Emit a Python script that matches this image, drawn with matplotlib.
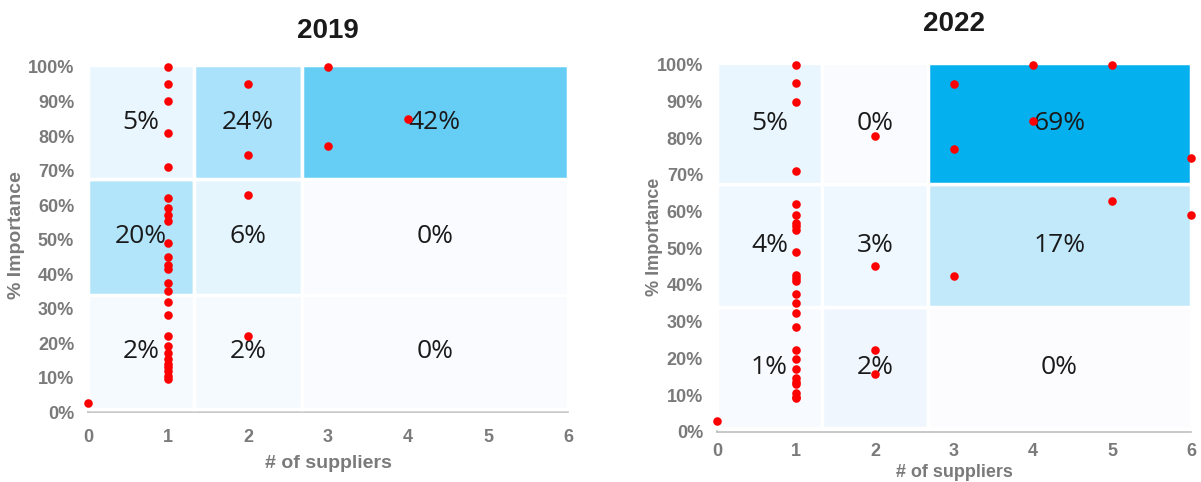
import matplotlib
matplotlib.use('Agg')
import matplotlib.pyplot as plt
from matplotlib.patches import Rectangle
from matplotlib.ticker import PercentFormatter

# grid of cells: column edges (# of suppliers) and row edges (importance)
col_edges = [0, 1.33, 2.67, 6]
row_edges = [0.01, 0.34, 0.675, 1.005]

# 2019 data
x_2019 = [0] + [1] * 26 + [2, 2, 2, 2, 3, 3, 4]
y_2019 = [0.025,
          1.00, 0.95, 0.90, 0.81, 0.71, 0.62, 0.59, 0.57, 0.555, 0.49,
          0.45, 0.425, 0.415, 0.375, 0.35, 0.32, 0.28, 0.22, 0.19, 0.17,
          0.155, 0.14, 0.13, 0.12, 0.105, 0.095,
          0.95, 0.745, 0.63, 0.22,
          1.00, 0.77,
          0.85]
# cell shares, rows from bottom to top, columns left to right
labels_2019 = [['2%', '2%', '0%'],
               ['20%', '6%', '0%'],
               ['5%', '24%', '42%']]
colors_2019 = [['#F5FAFE', '#F5FAFE', '#FAFBFE'],
               ['#B3E5FA', '#E5F5FD', '#FAFBFE'],
               ['#EAF6FE', '#A9E2FA', '#66CEF5']]

# 2022 data
x_2022 = [0] + [1] * 26 + [2, 2, 2, 2, 3, 3, 3, 4, 4, 5, 5, 6, 6]
y_2022 = [0.029,
          1.00, 0.95, 0.90, 0.71, 0.62, 0.59, 0.57, 0.56, 0.55, 0.49,
          0.427, 0.418, 0.412, 0.375, 0.35, 0.323, 0.285, 0.223, 0.197, 0.17,
          0.146, 0.136, 0.13, 0.105, 0.095, 0.091,
          0.807, 0.452, 0.223, 0.157,
          0.949, 0.77, 0.425,
          1.00, 0.847,
          1.00, 0.629,
          0.745, 0.591]
labels_2022 = [['1%', '2%', '0%'],
               ['4%', '3%', '17%'],
               ['5%', '0%', '69%']]
colors_2022 = [['#F7FAFE', '#F0F6FD', '#FCFCFE'],
               ['#EFF8FE', '#EFF8FE', '#C1E9FA'],
               ['#EAF6FE', '#FAFBFE', '#05B0EF']]

GRAY = '#7A7A7A'


def draw_panel(ax, title, xs, ys, labels, colors, xpad, title_y, xlabel_pad, label_size):
    for r in range(3):
        for c in range(3):
            x0, x1 = col_edges[c], col_edges[c + 1]
            y0, y1 = row_edges[r], row_edges[r + 1]
            ax.add_patch(Rectangle((x0, y0), x1 - x0, y1 - y0, facecolor=colors[r][c],
                                   edgecolor='white', linewidth=2.5, clip_on=False, zorder=1))
            ax.text((x0 + x1) / 2, (y0 + y1) / 2, labels[r][c], ha='center', va='center',
                    fontsize=19, family='Open Sans', color='#1a1a1a', zorder=2)

    ax.scatter(xs, ys, s=38, color='red', zorder=3, clip_on=False, linewidths=0)

    ax.set_xlim(0, 6)
    ax.set_ylim(0, 1)
    ax.set_xticks(range(7))
    ax.set_yticks([i / 10 for i in range(11)])
    ax.yaxis.set_major_formatter(PercentFormatter(1.0, decimals=0))
    ax.tick_params(length=0, colors=GRAY, labelsize=13)
    ax.tick_params(axis='y', pad=10)
    ax.tick_params(axis='x', pad=xpad)
    for lab in ax.get_xticklabels() + ax.get_yticklabels():
        lab.set_fontweight('bold')
        lab.set_family('Liberation Sans')

    for s in ['top', 'right']:
        ax.spines[s].set_visible(False)
    for s in ['left', 'bottom']:
        ax.spines[s].set_color('#BFBFBF')
        ax.spines[s].set_linewidth(1.2)
        ax.spines[s].set_zorder(0.5)

    ax.set_xlabel('# of suppliers', fontsize=label_size, fontweight='bold', color=GRAY,
                  family='Liberation Sans', labelpad=xlabel_pad)
    ax.set_ylabel('% Importance', fontsize=label_size, fontweight='bold', color=GRAY,
                  family='Liberation Sans')
    ax.set_title(title, fontsize=20, fontweight='bold', family='Liberation Sans',
                 color='#1a1a1a', y=title_y)


fig = plt.figure(figsize=(12.01, 4.82), dpi=100)

ax1 = fig.add_axes([0.0733, 0.1452, 0.3997, 0.7158])
draw_panel(ax1, '2019', x_2019, y_2019, labels_2019, colors_2019, 12, 1.06, 7, 14)
ax1.yaxis.set_label_coords(-0.131, 0.513)

ax2 = fig.add_axes([0.597, 0.1044, 0.3947, 0.7608])
draw_panel(ax2, '2022', x_2022, y_2022, labels_2022, colors_2022, 8, 1.07, 3, 13)
ax2.yaxis.set_label_coords(-0.114, 0.531)

fig.savefig('out.png', dpi=100)
